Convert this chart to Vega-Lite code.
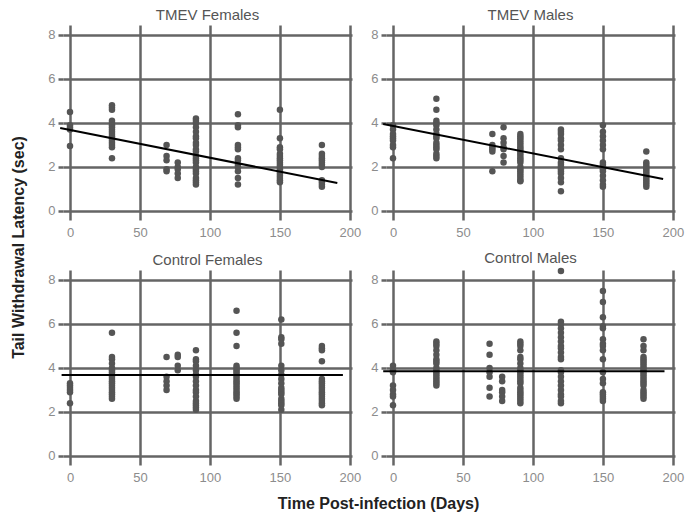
{
  "$schema": "https://vega.github.io/schema/vega-lite/v6.json",
  "padding": {"left": 10, "top": 8, "right": 5, "bottom": 5},
  "background": "white",
  "bounds": "flush",
  "columns": 2,
  "spacing": {"row": 50, "column": 34},
  "config": {
    "view": {"stroke": null},
    "font": "Liberation Sans",
    "axis": {"domain": false, "grid": true, "gridColor": "#656565", "gridWidth": 2.5, "gridOpacity": 1, "tickColor": "#656565", "tickWidth": 2.5, "labelColor": "#8c8c8c", "labelFontSize": 13, "labelFont": "Liberation Sans", "labelFlush": false, "titleFont": "Liberation Sans"},
    "axisX": {"tickSize": 0, "labelPadding": 6},
    "axisY": {"tickSize": 5, "labelPadding": 3},
    "title": {"fontSize": 15, "fontWeight": "normal", "color": "#555555", "offset": 2, "frame": "group", "font": "Liberation Sans"}
  },
  "datasets": {
    "pts": [
      {"panel":"TMEV Females","day":0,"latency":4.5},{"panel":"TMEV Females","day":0,"latency":3.9},{"panel":"TMEV Females","day":0,"latency":3.8},{"panel":"TMEV Females","day":0,"latency":3.7},{"panel":"TMEV Females","day":0,"latency":2.95},
      {"panel":"TMEV Females","day":30,"latency":4.8},{"panel":"TMEV Females","day":30,"latency":4.7},{"panel":"TMEV Females","day":30,"latency":4.6},{"panel":"TMEV Females","day":30,"latency":4.1},{"panel":"TMEV Females","day":30,"latency":4.0},{"panel":"TMEV Females","day":30,"latency":3.9},{"panel":"TMEV Females","day":30,"latency":3.8},{"panel":"TMEV Females","day":30,"latency":3.7},{"panel":"TMEV Females","day":30,"latency":3.6},{"panel":"TMEV Females","day":30,"latency":3.5},{"panel":"TMEV Females","day":30,"latency":3.4},{"panel":"TMEV Females","day":30,"latency":3.3},{"panel":"TMEV Females","day":30,"latency":3.2},{"panel":"TMEV Females","day":30,"latency":3.1},{"panel":"TMEV Females","day":30,"latency":3.0},{"panel":"TMEV Females","day":30,"latency":2.9},{"panel":"TMEV Females","day":30,"latency":2.4},
      {"panel":"TMEV Females","day":69,"latency":3.0},{"panel":"TMEV Females","day":69,"latency":2.5},{"panel":"TMEV Females","day":69,"latency":2.3},{"panel":"TMEV Females","day":69,"latency":1.9},{"panel":"TMEV Females","day":69,"latency":1.8},
      {"panel":"TMEV Females","day":77,"latency":2.2},{"panel":"TMEV Females","day":77,"latency":2.0},{"panel":"TMEV Females","day":77,"latency":1.9},{"panel":"TMEV Females","day":77,"latency":1.7},{"panel":"TMEV Females","day":77,"latency":1.5},
      {"panel":"TMEV Females","day":90,"latency":4.2},{"panel":"TMEV Females","day":90,"latency":4.1},{"panel":"TMEV Females","day":90,"latency":4.0},{"panel":"TMEV Females","day":90,"latency":3.8},{"panel":"TMEV Females","day":90,"latency":3.6},{"panel":"TMEV Females","day":90,"latency":3.4},{"panel":"TMEV Females","day":90,"latency":3.3},{"panel":"TMEV Females","day":90,"latency":3.1},{"panel":"TMEV Females","day":90,"latency":3.0},{"panel":"TMEV Females","day":90,"latency":2.8},{"panel":"TMEV Females","day":90,"latency":2.7},{"panel":"TMEV Females","day":90,"latency":2.5},{"panel":"TMEV Females","day":90,"latency":2.4},{"panel":"TMEV Females","day":90,"latency":2.3},{"panel":"TMEV Females","day":90,"latency":2.2},{"panel":"TMEV Females","day":90,"latency":2.0},{"panel":"TMEV Females","day":90,"latency":1.9},{"panel":"TMEV Females","day":90,"latency":1.8},{"panel":"TMEV Females","day":90,"latency":1.7},{"panel":"TMEV Females","day":90,"latency":1.5},{"panel":"TMEV Females","day":90,"latency":1.4},{"panel":"TMEV Females","day":90,"latency":1.3},{"panel":"TMEV Females","day":90,"latency":1.2},
      {"panel":"TMEV Females","day":120,"latency":4.4},{"panel":"TMEV Females","day":120,"latency":3.9},{"panel":"TMEV Females","day":120,"latency":3.8},{"panel":"TMEV Females","day":120,"latency":3.0},{"panel":"TMEV Females","day":120,"latency":2.9},{"panel":"TMEV Females","day":120,"latency":2.8},{"panel":"TMEV Females","day":120,"latency":2.4},{"panel":"TMEV Females","day":120,"latency":2.3},{"panel":"TMEV Females","day":120,"latency":2.1},{"panel":"TMEV Females","day":120,"latency":2.0},{"panel":"TMEV Females","day":120,"latency":1.8},{"panel":"TMEV Females","day":120,"latency":1.5},{"panel":"TMEV Females","day":120,"latency":1.2},
      {"panel":"TMEV Females","day":150,"latency":4.6},{"panel":"TMEV Females","day":150,"latency":3.3},{"panel":"TMEV Females","day":150,"latency":2.9},{"panel":"TMEV Females","day":150,"latency":2.8},{"panel":"TMEV Females","day":150,"latency":2.6},{"panel":"TMEV Females","day":150,"latency":2.5},{"panel":"TMEV Females","day":150,"latency":2.4},{"panel":"TMEV Females","day":150,"latency":2.3},{"panel":"TMEV Females","day":150,"latency":2.2},{"panel":"TMEV Females","day":150,"latency":2.1},{"panel":"TMEV Females","day":150,"latency":2.0},{"panel":"TMEV Females","day":150,"latency":1.9},{"panel":"TMEV Females","day":150,"latency":1.8},{"panel":"TMEV Females","day":150,"latency":1.7},{"panel":"TMEV Females","day":150,"latency":1.6},{"panel":"TMEV Females","day":150,"latency":1.5},{"panel":"TMEV Females","day":150,"latency":1.4},{"panel":"TMEV Females","day":150,"latency":1.3},
      {"panel":"TMEV Females","day":180,"latency":3.0},{"panel":"TMEV Females","day":180,"latency":2.6},{"panel":"TMEV Females","day":180,"latency":2.5},{"panel":"TMEV Females","day":180,"latency":2.4},{"panel":"TMEV Females","day":180,"latency":2.3},{"panel":"TMEV Females","day":180,"latency":2.2},{"panel":"TMEV Females","day":180,"latency":2.1},{"panel":"TMEV Females","day":180,"latency":2.0},{"panel":"TMEV Females","day":180,"latency":1.4},{"panel":"TMEV Females","day":180,"latency":1.3},{"panel":"TMEV Females","day":180,"latency":1.2},{"panel":"TMEV Females","day":180,"latency":1.1},

      {"panel":"TMEV Males","day":0,"latency":3.9},{"panel":"TMEV Males","day":0,"latency":3.7},{"panel":"TMEV Males","day":0,"latency":3.5},{"panel":"TMEV Males","day":0,"latency":3.4},{"panel":"TMEV Males","day":0,"latency":3.3},{"panel":"TMEV Males","day":0,"latency":3.2},{"panel":"TMEV Males","day":0,"latency":3.0},{"panel":"TMEV Males","day":0,"latency":2.9},{"panel":"TMEV Males","day":0,"latency":2.4},
      {"panel":"TMEV Males","day":31,"latency":5.1},{"panel":"TMEV Males","day":31,"latency":4.6},{"panel":"TMEV Males","day":31,"latency":4.1},{"panel":"TMEV Males","day":31,"latency":4.0},{"panel":"TMEV Males","day":31,"latency":3.9},{"panel":"TMEV Males","day":31,"latency":3.7},{"panel":"TMEV Males","day":31,"latency":3.5},{"panel":"TMEV Males","day":31,"latency":3.4},{"panel":"TMEV Males","day":31,"latency":3.3},{"panel":"TMEV Males","day":31,"latency":3.1},{"panel":"TMEV Males","day":31,"latency":3.0},{"panel":"TMEV Males","day":31,"latency":2.9},{"panel":"TMEV Males","day":31,"latency":2.8},{"panel":"TMEV Males","day":31,"latency":2.6},{"panel":"TMEV Males","day":31,"latency":2.5},{"panel":"TMEV Males","day":31,"latency":2.4},
      {"panel":"TMEV Males","day":71,"latency":3.5},{"panel":"TMEV Males","day":71,"latency":3.0},{"panel":"TMEV Males","day":71,"latency":2.9},{"panel":"TMEV Males","day":71,"latency":2.8},{"panel":"TMEV Males","day":71,"latency":2.7},{"panel":"TMEV Males","day":71,"latency":1.8},
      {"panel":"TMEV Males","day":79,"latency":3.8},{"panel":"TMEV Males","day":79,"latency":3.3},{"panel":"TMEV Males","day":79,"latency":3.1},{"panel":"TMEV Males","day":79,"latency":2.9},{"panel":"TMEV Males","day":79,"latency":2.8},{"panel":"TMEV Males","day":79,"latency":2.5},{"panel":"TMEV Males","day":79,"latency":2.2},
      {"panel":"TMEV Males","day":91,"latency":3.5},{"panel":"TMEV Males","day":91,"latency":3.4},{"panel":"TMEV Males","day":91,"latency":3.3},{"panel":"TMEV Males","day":91,"latency":3.2},{"panel":"TMEV Males","day":91,"latency":3.1},{"panel":"TMEV Males","day":91,"latency":3.0},{"panel":"TMEV Males","day":91,"latency":2.9},{"panel":"TMEV Males","day":91,"latency":2.8},{"panel":"TMEV Males","day":91,"latency":2.7},{"panel":"TMEV Males","day":91,"latency":2.6},{"panel":"TMEV Males","day":91,"latency":2.5},{"panel":"TMEV Males","day":91,"latency":2.4},{"panel":"TMEV Males","day":91,"latency":2.3},{"panel":"TMEV Males","day":91,"latency":2.2},{"panel":"TMEV Males","day":91,"latency":2.0},{"panel":"TMEV Males","day":91,"latency":1.9},{"panel":"TMEV Males","day":91,"latency":1.8},{"panel":"TMEV Males","day":91,"latency":1.7},{"panel":"TMEV Males","day":91,"latency":1.6},{"panel":"TMEV Males","day":91,"latency":1.5},{"panel":"TMEV Males","day":91,"latency":1.4},{"panel":"TMEV Males","day":91,"latency":1.35},
      {"panel":"TMEV Males","day":120,"latency":3.7},{"panel":"TMEV Males","day":120,"latency":3.6},{"panel":"TMEV Males","day":120,"latency":3.5},{"panel":"TMEV Males","day":120,"latency":3.3},{"panel":"TMEV Males","day":120,"latency":3.2},{"panel":"TMEV Males","day":120,"latency":3.0},{"panel":"TMEV Males","day":120,"latency":2.8},{"panel":"TMEV Males","day":120,"latency":2.4},{"panel":"TMEV Males","day":120,"latency":2.2},{"panel":"TMEV Males","day":120,"latency":2.1},{"panel":"TMEV Males","day":120,"latency":2.0},{"panel":"TMEV Males","day":120,"latency":1.9},{"panel":"TMEV Males","day":120,"latency":1.8},{"panel":"TMEV Males","day":120,"latency":1.7},{"panel":"TMEV Males","day":120,"latency":1.5},{"panel":"TMEV Males","day":120,"latency":1.3},{"panel":"TMEV Males","day":120,"latency":0.9},
      {"panel":"TMEV Males","day":150,"latency":3.9},{"panel":"TMEV Males","day":150,"latency":3.6},{"panel":"TMEV Males","day":150,"latency":3.4},{"panel":"TMEV Males","day":150,"latency":3.2},{"panel":"TMEV Males","day":150,"latency":3.0},{"panel":"TMEV Males","day":150,"latency":2.8},{"panel":"TMEV Males","day":150,"latency":2.2},{"panel":"TMEV Males","day":150,"latency":2.1},{"panel":"TMEV Males","day":150,"latency":2.0},{"panel":"TMEV Males","day":150,"latency":1.9},{"panel":"TMEV Males","day":150,"latency":1.8},{"panel":"TMEV Males","day":150,"latency":1.6},{"panel":"TMEV Males","day":150,"latency":1.4},{"panel":"TMEV Males","day":150,"latency":1.2},{"panel":"TMEV Males","day":150,"latency":1.1},
      {"panel":"TMEV Males","day":181,"latency":2.7},{"panel":"TMEV Males","day":181,"latency":2.2},{"panel":"TMEV Males","day":181,"latency":2.1},{"panel":"TMEV Males","day":181,"latency":2.0},{"panel":"TMEV Males","day":181,"latency":1.9},{"panel":"TMEV Males","day":181,"latency":1.8},{"panel":"TMEV Males","day":181,"latency":1.7},{"panel":"TMEV Males","day":181,"latency":1.6},{"panel":"TMEV Males","day":181,"latency":1.5},{"panel":"TMEV Males","day":181,"latency":1.4},{"panel":"TMEV Males","day":181,"latency":1.3},{"panel":"TMEV Males","day":181,"latency":1.2},{"panel":"TMEV Males","day":181,"latency":1.1},

      {"panel":"Control Females","day":0,"latency":3.3},{"panel":"Control Females","day":0,"latency":3.2},{"panel":"Control Females","day":0,"latency":3.1},{"panel":"Control Females","day":0,"latency":3.0},{"panel":"Control Females","day":0,"latency":2.9},{"panel":"Control Females","day":0,"latency":2.4},
      {"panel":"Control Females","day":30,"latency":5.6},{"panel":"Control Females","day":30,"latency":4.5},{"panel":"Control Females","day":30,"latency":4.4},{"panel":"Control Females","day":30,"latency":4.2},{"panel":"Control Females","day":30,"latency":4.0},{"panel":"Control Females","day":30,"latency":3.9},{"panel":"Control Females","day":30,"latency":3.8},{"panel":"Control Females","day":30,"latency":3.7},{"panel":"Control Females","day":30,"latency":3.6},{"panel":"Control Females","day":30,"latency":3.5},{"panel":"Control Females","day":30,"latency":3.4},{"panel":"Control Females","day":30,"latency":3.3},{"panel":"Control Females","day":30,"latency":3.2},{"panel":"Control Females","day":30,"latency":3.1},{"panel":"Control Females","day":30,"latency":3.0},{"panel":"Control Females","day":30,"latency":2.9},{"panel":"Control Females","day":30,"latency":2.8},{"panel":"Control Females","day":30,"latency":2.7},{"panel":"Control Females","day":30,"latency":2.6},
      {"panel":"Control Females","day":69,"latency":4.5},{"panel":"Control Females","day":69,"latency":3.6},{"panel":"Control Females","day":69,"latency":3.4},{"panel":"Control Females","day":69,"latency":3.2},{"panel":"Control Females","day":69,"latency":3.0},
      {"panel":"Control Females","day":77,"latency":4.6},{"panel":"Control Females","day":77,"latency":4.5},{"panel":"Control Females","day":77,"latency":4.1},{"panel":"Control Females","day":77,"latency":3.9},
      {"panel":"Control Females","day":90,"latency":4.8},{"panel":"Control Females","day":90,"latency":4.4},{"panel":"Control Females","day":90,"latency":4.3},{"panel":"Control Females","day":90,"latency":4.1},{"panel":"Control Females","day":90,"latency":3.9},{"panel":"Control Females","day":90,"latency":3.7},{"panel":"Control Females","day":90,"latency":3.6},{"panel":"Control Females","day":90,"latency":3.4},{"panel":"Control Females","day":90,"latency":3.2},{"panel":"Control Females","day":90,"latency":3.0},{"panel":"Control Females","day":90,"latency":2.9},{"panel":"Control Females","day":90,"latency":2.7},{"panel":"Control Females","day":90,"latency":2.5},{"panel":"Control Females","day":90,"latency":2.4},{"panel":"Control Females","day":90,"latency":2.3},{"panel":"Control Females","day":90,"latency":2.2},{"panel":"Control Females","day":90,"latency":2.1},
      {"panel":"Control Females","day":119,"latency":6.6},{"panel":"Control Females","day":119,"latency":5.6},{"panel":"Control Females","day":119,"latency":5.0},{"panel":"Control Females","day":119,"latency":4.1},{"panel":"Control Females","day":119,"latency":4.0},{"panel":"Control Females","day":119,"latency":3.9},{"panel":"Control Females","day":119,"latency":3.8},{"panel":"Control Females","day":119,"latency":3.7},{"panel":"Control Females","day":119,"latency":3.6},{"panel":"Control Females","day":119,"latency":3.5},{"panel":"Control Females","day":119,"latency":3.4},{"panel":"Control Females","day":119,"latency":3.3},{"panel":"Control Females","day":119,"latency":3.2},{"panel":"Control Females","day":119,"latency":3.1},{"panel":"Control Females","day":119,"latency":3.0},{"panel":"Control Females","day":119,"latency":2.9},{"panel":"Control Females","day":119,"latency":2.8},{"panel":"Control Females","day":119,"latency":2.7},{"panel":"Control Females","day":119,"latency":2.6},
      {"panel":"Control Females","day":151,"latency":6.2},{"panel":"Control Females","day":151,"latency":5.4},{"panel":"Control Females","day":151,"latency":5.3},{"panel":"Control Females","day":151,"latency":5.1},{"panel":"Control Females","day":151,"latency":4.1},{"panel":"Control Females","day":151,"latency":3.9},{"panel":"Control Females","day":151,"latency":3.7},{"panel":"Control Females","day":151,"latency":3.5},{"panel":"Control Females","day":151,"latency":3.3},{"panel":"Control Females","day":151,"latency":3.1},{"panel":"Control Females","day":151,"latency":3.0},{"panel":"Control Females","day":151,"latency":2.9},{"panel":"Control Females","day":151,"latency":2.8},{"panel":"Control Females","day":151,"latency":2.6},{"panel":"Control Females","day":151,"latency":2.5},{"panel":"Control Females","day":151,"latency":2.4},{"panel":"Control Females","day":151,"latency":2.3},{"panel":"Control Females","day":151,"latency":2.1},
      {"panel":"Control Females","day":180,"latency":5.0},{"panel":"Control Females","day":180,"latency":4.9},{"panel":"Control Females","day":180,"latency":4.8},{"panel":"Control Females","day":180,"latency":4.3},{"panel":"Control Females","day":180,"latency":3.5},{"panel":"Control Females","day":180,"latency":3.4},{"panel":"Control Females","day":180,"latency":3.3},{"panel":"Control Females","day":180,"latency":3.2},{"panel":"Control Females","day":180,"latency":3.1},{"panel":"Control Females","day":180,"latency":3.0},{"panel":"Control Females","day":180,"latency":2.9},{"panel":"Control Females","day":180,"latency":2.8},{"panel":"Control Females","day":180,"latency":2.7},{"panel":"Control Females","day":180,"latency":2.6},{"panel":"Control Females","day":180,"latency":2.5},{"panel":"Control Females","day":180,"latency":2.4},{"panel":"Control Females","day":180,"latency":2.3},

      {"panel":"Control Males","day":0,"latency":4.1},{"panel":"Control Males","day":0,"latency":3.9},{"panel":"Control Males","day":0,"latency":3.8},{"panel":"Control Males","day":0,"latency":3.2},{"panel":"Control Males","day":0,"latency":3.0},{"panel":"Control Males","day":0,"latency":2.8},{"panel":"Control Males","day":0,"latency":2.7},{"panel":"Control Males","day":0,"latency":2.3},
      {"panel":"Control Males","day":31,"latency":5.2},{"panel":"Control Males","day":31,"latency":5.1},{"panel":"Control Males","day":31,"latency":5.0},{"panel":"Control Males","day":31,"latency":4.8},{"panel":"Control Males","day":31,"latency":4.6},{"panel":"Control Males","day":31,"latency":4.4},{"panel":"Control Males","day":31,"latency":4.3},{"panel":"Control Males","day":31,"latency":4.2},{"panel":"Control Males","day":31,"latency":4.0},{"panel":"Control Males","day":31,"latency":3.9},{"panel":"Control Males","day":31,"latency":3.8},{"panel":"Control Males","day":31,"latency":3.7},{"panel":"Control Males","day":31,"latency":3.6},{"panel":"Control Males","day":31,"latency":3.5},{"panel":"Control Males","day":31,"latency":3.4},{"panel":"Control Males","day":31,"latency":3.3},{"panel":"Control Males","day":31,"latency":3.2},
      {"panel":"Control Males","day":69,"latency":5.1},{"panel":"Control Males","day":69,"latency":4.6},{"panel":"Control Males","day":69,"latency":4.0},{"panel":"Control Males","day":69,"latency":3.8},{"panel":"Control Males","day":69,"latency":3.6},{"panel":"Control Males","day":69,"latency":3.1},{"panel":"Control Males","day":69,"latency":2.7},
      {"panel":"Control Males","day":78,"latency":3.6},{"panel":"Control Males","day":78,"latency":3.4},{"panel":"Control Males","day":78,"latency":3.0},{"panel":"Control Males","day":78,"latency":2.9},{"panel":"Control Males","day":78,"latency":2.7},{"panel":"Control Males","day":78,"latency":2.5},
      {"panel":"Control Males","day":91,"latency":5.2},{"panel":"Control Males","day":91,"latency":5.1},{"panel":"Control Males","day":91,"latency":5.0},{"panel":"Control Males","day":91,"latency":4.8},{"panel":"Control Males","day":91,"latency":4.5},{"panel":"Control Males","day":91,"latency":4.4},{"panel":"Control Males","day":91,"latency":4.2},{"panel":"Control Males","day":91,"latency":4.0},{"panel":"Control Males","day":91,"latency":3.9},{"panel":"Control Males","day":91,"latency":3.8},{"panel":"Control Males","day":91,"latency":3.7},{"panel":"Control Males","day":91,"latency":3.6},{"panel":"Control Males","day":91,"latency":3.5},{"panel":"Control Males","day":91,"latency":3.4},{"panel":"Control Males","day":91,"latency":3.3},{"panel":"Control Males","day":91,"latency":3.1},{"panel":"Control Males","day":91,"latency":3.0},{"panel":"Control Males","day":91,"latency":2.9},{"panel":"Control Males","day":91,"latency":2.8},{"panel":"Control Males","day":91,"latency":2.7},{"panel":"Control Males","day":91,"latency":2.6},{"panel":"Control Males","day":91,"latency":2.5},{"panel":"Control Males","day":91,"latency":2.4},
      {"panel":"Control Males","day":120,"latency":8.4},{"panel":"Control Males","day":120,"latency":6.1},{"panel":"Control Males","day":120,"latency":6.0},{"panel":"Control Males","day":120,"latency":5.8},{"panel":"Control Males","day":120,"latency":5.6},{"panel":"Control Males","day":120,"latency":5.4},{"panel":"Control Males","day":120,"latency":5.2},{"panel":"Control Males","day":120,"latency":5.0},{"panel":"Control Males","day":120,"latency":4.9},{"panel":"Control Males","day":120,"latency":4.7},{"panel":"Control Males","day":120,"latency":4.5},{"panel":"Control Males","day":120,"latency":4.4},{"panel":"Control Males","day":120,"latency":3.9},{"panel":"Control Males","day":120,"latency":3.8},{"panel":"Control Males","day":120,"latency":3.6},{"panel":"Control Males","day":120,"latency":3.4},{"panel":"Control Males","day":120,"latency":3.2},{"panel":"Control Males","day":120,"latency":3.0},{"panel":"Control Males","day":120,"latency":2.8},{"panel":"Control Males","day":120,"latency":2.7},{"panel":"Control Males","day":120,"latency":2.5},{"panel":"Control Males","day":120,"latency":2.4},
      {"panel":"Control Males","day":150,"latency":7.5},{"panel":"Control Males","day":150,"latency":7.0},{"panel":"Control Males","day":150,"latency":6.3},{"panel":"Control Males","day":150,"latency":5.9},{"panel":"Control Males","day":150,"latency":5.8},{"panel":"Control Males","day":150,"latency":5.3},{"panel":"Control Males","day":150,"latency":5.1},{"panel":"Control Males","day":150,"latency":5.0},{"panel":"Control Males","day":150,"latency":4.8},{"panel":"Control Males","day":150,"latency":4.4},{"panel":"Control Males","day":150,"latency":3.8},{"panel":"Control Males","day":150,"latency":3.5},{"panel":"Control Males","day":150,"latency":3.3},{"panel":"Control Males","day":150,"latency":2.9},{"panel":"Control Males","day":150,"latency":2.8},{"panel":"Control Males","day":150,"latency":2.7},{"panel":"Control Males","day":150,"latency":2.6},{"panel":"Control Males","day":150,"latency":2.5},
      {"panel":"Control Males","day":179,"latency":5.3},{"panel":"Control Males","day":179,"latency":5.0},{"panel":"Control Males","day":179,"latency":4.8},{"panel":"Control Males","day":179,"latency":4.5},{"panel":"Control Males","day":179,"latency":4.4},{"panel":"Control Males","day":179,"latency":4.3},{"panel":"Control Males","day":179,"latency":4.2},{"panel":"Control Males","day":179,"latency":4.1},{"panel":"Control Males","day":179,"latency":4.0},{"panel":"Control Males","day":179,"latency":3.9},{"panel":"Control Males","day":179,"latency":3.8},{"panel":"Control Males","day":179,"latency":3.7},{"panel":"Control Males","day":179,"latency":3.6},{"panel":"Control Males","day":179,"latency":3.5},{"panel":"Control Males","day":179,"latency":3.4},{"panel":"Control Males","day":179,"latency":3.3},{"panel":"Control Males","day":179,"latency":3.2},{"panel":"Control Males","day":179,"latency":3.0},{"panel":"Control Males","day":179,"latency":2.9},{"panel":"Control Males","day":179,"latency":2.8},{"panel":"Control Males","day":179,"latency":2.7},{"panel":"Control Males","day":179,"latency":2.6}
    ],
    "fit": [
      {"panel":"TMEV Females","day":-7,"latency":3.77},{"panel":"TMEV Females","day":191,"latency":1.27},
      {"panel":"TMEV Males","day":-7,"latency":3.95},{"panel":"TMEV Males","day":193,"latency":1.45},
      {"panel":"Control Females","day":-6,"latency":3.68},{"panel":"Control Females","day":195,"latency":3.68},
      {"panel":"Control Males","day":-7,"latency":3.85},{"panel":"Control Males","day":194,"latency":3.85}
    ]
  },
  "concat": [
    {
      "width": 289, "height": 195,
      "title": "TMEV Females",
      "encoding": {
        "x": {"field": "day", "type": "quantitative", "scale": {"domain": [-5, 201.5], "nice": false, "zero": false}, "axis": {"values": [0, 50, 100, 150, 200], "title": null}},
        "y": {"field": "latency", "type": "quantitative", "scale": {"domain": [-0.41, 8.45], "nice": false, "zero": false}, "axis": {"values": [0, 2, 4, 6, 8], "title": "Tail Withdrawal Latency (sec)", "titleX": -45, "titleY": 222, "titleAngle": 270, "titleAlign": "center", "titleBaseline": "middle", "titleFontSize": 16, "titleFontWeight": "bold", "titleColor": "#222222"}}
      },
      "layer": [
        {"data": {"name": "pts"}, "transform": [{"filter": "datum.panel === 'TMEV Females'"}], "mark": {"type": "circle", "size": 42, "opacity": 1, "color": "#555555"}},
        {"data": {"name": "fit"}, "transform": [{"filter": "datum.panel === 'TMEV Females'"}], "mark": {"type": "line", "color": "#000000", "strokeWidth": 2}}
      ]
    },
    {
      "width": 289, "height": 195,
      "title": "TMEV Males",
      "encoding": {
        "x": {"field": "day", "type": "quantitative", "scale": {"domain": [-5, 201.5], "nice": false, "zero": false}, "axis": {"values": [0, 50, 100, 150, 200], "title": null}},
        "y": {"field": "latency", "type": "quantitative", "scale": {"domain": [-0.41, 8.45], "nice": false, "zero": false}, "axis": {"values": [0, 2, 4, 6, 8], "title": null}}
      },
      "layer": [
        {"data": {"name": "pts"}, "transform": [{"filter": "datum.panel === 'TMEV Males'"}], "mark": {"type": "circle", "size": 42, "opacity": 1, "color": "#555555"}},
        {"data": {"name": "fit"}, "transform": [{"filter": "datum.panel === 'TMEV Males'"}], "mark": {"type": "line", "color": "#000000", "strokeWidth": 2}}
      ]
    },
    {
      "width": 289, "height": 195,
      "title": "Control Females",
      "encoding": {
        "x": {"field": "day", "type": "quantitative", "scale": {"domain": [-5, 201.5], "nice": false, "zero": false}, "axis": {"values": [0, 50, 100, 150, 200], "title": "Time Post-infection (Days)", "titleX": 315, "titleY": 38, "titleAlign": "center", "titleBaseline": "middle", "titleFontSize": 16, "titleFontWeight": "bold", "titleColor": "#222222"}},
        "y": {"field": "latency", "type": "quantitative", "scale": {"domain": [-0.41, 8.45], "nice": false, "zero": false}, "axis": {"values": [0, 2, 4, 6, 8], "title": null}}
      },
      "layer": [
        {"data": {"name": "pts"}, "transform": [{"filter": "datum.panel === 'Control Females'"}], "mark": {"type": "circle", "size": 42, "opacity": 1, "color": "#555555"}},
        {"data": {"name": "fit"}, "transform": [{"filter": "datum.panel === 'Control Females'"}], "mark": {"type": "line", "color": "#000000", "strokeWidth": 2}}
      ]
    },
    {
      "width": 289, "height": 195,
      "title": "Control Males",
      "encoding": {
        "x": {"field": "day", "type": "quantitative", "scale": {"domain": [-5, 201.5], "nice": false, "zero": false}, "axis": {"values": [0, 50, 100, 150, 200], "title": null}},
        "y": {"field": "latency", "type": "quantitative", "scale": {"domain": [-0.41, 8.45], "nice": false, "zero": false}, "axis": {"values": [0, 2, 4, 6, 8], "title": null}}
      },
      "layer": [
        {"data": {"name": "pts"}, "transform": [{"filter": "datum.panel === 'Control Males'"}], "mark": {"type": "circle", "size": 42, "opacity": 1, "color": "#555555"}},
        {"data": {"name": "fit"}, "transform": [{"filter": "datum.panel === 'Control Males'"}], "mark": {"type": "line", "color": "#000000", "strokeWidth": 2}}
      ]
    }
  ]
}
